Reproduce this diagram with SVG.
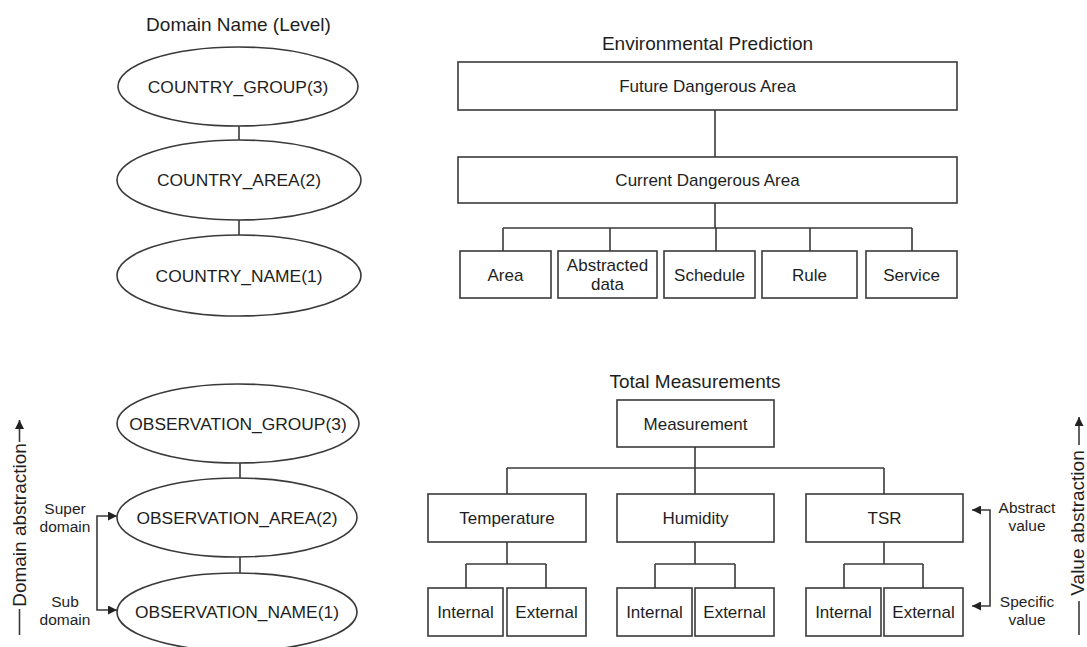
<svg xmlns="http://www.w3.org/2000/svg" width="1087" height="647" viewBox="0 0 1087 647">
  <defs>
    <marker id="arrow" viewBox="0 0 10 10" refX="10" refY="5" markerWidth="11" markerHeight="9" markerUnits="userSpaceOnUse" orient="auto-start-reverse">
      <path d="M0,0 L10,5 L0,10 Z" fill="#222"/>
    </marker>
    <style>
      .shape { fill: #fff; stroke: #3a3a3a; stroke-width: 1.6; }
      .wire { fill: none; stroke: #3a3a3a; stroke-width: 1.6; }
      .lbl { font-family: "Liberation Sans", Arial, sans-serif; font-size: 17px; fill: #1e1e1e; text-anchor: middle; }
      .oval { font-size: 17.4px; }
      .title { font-size: 19px; }
      .side { font-size: 15.5px; }
    </style>
  </defs>

  <rect width="1087" height="647" fill="#fff"/>

  <!-- connectors -->
  <g id="connectors">
    <!-- country hierarchy -->
    <path class="wire" d="M239,126 V140 M239,220 V235"/>
    <!-- observation hierarchy -->
    <path class="wire" d="M240,463 V478 M240,557 V573"/>
    <!-- environmental prediction tree -->
    <path class="wire" d="M715,110 V157 M715,203 V228 M503,228 H912 M503,228 V251 M610,228 V251 M716,228 V251 M810,228 V251 M912,228 V251"/>
    <!-- measurement tree -->
    <path class="wire" d="M695,447 V494 M507,468 H884 M507,468 V494 M884,468 V494"/>
    <path class="wire" d="M507,542 V564 M466,564 H546 M466,564 V588 M546,564 V588"/>
    <path class="wire" d="M695,542 V564 M655,564 H735 M655,564 V588 M735,564 V588"/>
    <path class="wire" d="M884,542 V564 M844,564 H923 M844,564 V588 M923,564 V588"/>
    <!-- super / sub domain bracket -->
    <path class="wire" d="M117,516 H97 V610 H117" marker-start="url(#arrow)" marker-end="url(#arrow)"/>
    <!-- abstract / specific value bracket -->
    <path class="wire" d="M972,510 H990 V606 H972" marker-start="url(#arrow)" marker-end="url(#arrow)"/>
    <!-- abstraction axes -->
    <path class="wire" d="M19.5,635 V609"/>
    <path class="wire" d="M19.5,442 V420" marker-end="url(#arrow)"/>
    <path class="wire" d="M1079,635 V601"/>
    <path class="wire" d="M1079,445 V417" marker-end="url(#arrow)"/>
  </g>

  <!-- titles -->
  <g id="titles">
    <text class="lbl title" x="238.5" y="31">Domain Name (Level)</text>
    <text class="lbl title" x="707.5" y="50">Environmental Prediction</text>
    <text class="lbl title" x="695" y="388">Total Measurements</text>
  </g>

  <!-- country domain levels -->
  <g id="country-group">
    <ellipse class="shape" cx="238" cy="86.5" rx="120" ry="39.5"/>
    <text class="lbl oval" x="238" y="92.5">COUNTRY_GROUP(3)</text>
  </g>
  <g id="country-area">
    <ellipse class="shape" cx="239" cy="180" rx="122" ry="40"/>
    <text class="lbl oval" x="239" y="186">COUNTRY_AREA(2)</text>
  </g>
  <g id="country-name">
    <ellipse class="shape" cx="239" cy="275.5" rx="122" ry="40.5"/>
    <text class="lbl oval" x="239" y="281.5">COUNTRY_NAME(1)</text>
  </g>

  <!-- observation domain levels -->
  <g id="observation-group">
    <ellipse class="shape" cx="238" cy="423.5" rx="121" ry="39.5"/>
    <text class="lbl oval" x="238" y="429.5">OBSERVATION_GROUP(3)</text>
  </g>
  <g id="observation-area">
    <ellipse class="shape" cx="237" cy="517.5" rx="120" ry="39.5"/>
    <text class="lbl oval" x="237" y="523.5">OBSERVATION_AREA(2)</text>
  </g>
  <g id="observation-name">
    <ellipse class="shape" cx="237" cy="612" rx="120" ry="39"/>
    <text class="lbl oval" x="237" y="618">OBSERVATION_NAME(1)</text>
  </g>

  <!-- environmental prediction -->
  <g id="future-dangerous-area">
    <rect class="shape" x="458" y="62" width="499" height="48"/>
    <text class="lbl" x="707.5" y="92">Future Dangerous Area</text>
  </g>
  <g id="current-dangerous-area">
    <rect class="shape" x="458" y="157" width="499" height="46"/>
    <text class="lbl" x="707.5" y="186">Current Dangerous Area</text>
  </g>
  <g id="area">
    <rect class="shape" x="460" y="251" width="91" height="47"/>
    <text class="lbl" x="505.5" y="280.5">Area</text>
  </g>
  <g id="abstracted-data">
    <rect class="shape" x="558" y="251" width="99" height="47"/>
    <text class="lbl" x="607.5" y="271">Abstracted</text>
    <text class="lbl" x="607.5" y="290">data</text>
  </g>
  <g id="schedule">
    <rect class="shape" x="664" y="251" width="91" height="47"/>
    <text class="lbl" x="709.5" y="280.5">Schedule</text>
  </g>
  <g id="rule">
    <rect class="shape" x="762" y="251" width="95" height="47"/>
    <text class="lbl" x="809.5" y="280.5">Rule</text>
  </g>
  <g id="service">
    <rect class="shape" x="866" y="251" width="91" height="47"/>
    <text class="lbl" x="911.5" y="280.5">Service</text>
  </g>

  <!-- total measurements -->
  <g id="measurement">
    <rect class="shape" x="617" y="400" width="157" height="47"/>
    <text class="lbl" x="695.5" y="429.5">Measurement</text>
  </g>
  <g id="temperature">
    <rect class="shape" x="428" y="494" width="158" height="48"/>
    <text class="lbl" x="507" y="524">Temperature</text>
  </g>
  <g id="humidity">
    <rect class="shape" x="617" y="494" width="157" height="48"/>
    <text class="lbl" x="695.5" y="524">Humidity</text>
  </g>
  <g id="tsr">
    <rect class="shape" x="806" y="494" width="157" height="48"/>
    <text class="lbl" x="884.5" y="524">TSR</text>
  </g>
  <g id="temperature-internal">
    <rect class="shape" x="428" y="588" width="75" height="48"/>
    <text class="lbl" x="465.5" y="618">Internal</text>
  </g>
  <g id="temperature-external">
    <rect class="shape" x="507" y="588" width="79" height="48"/>
    <text class="lbl" x="546.5" y="618">External</text>
  </g>
  <g id="humidity-internal">
    <rect class="shape" x="617" y="588" width="75" height="48"/>
    <text class="lbl" x="654.5" y="618">Internal</text>
  </g>
  <g id="humidity-external">
    <rect class="shape" x="695" y="588" width="79" height="48"/>
    <text class="lbl" x="734.5" y="618">External</text>
  </g>
  <g id="tsr-internal">
    <rect class="shape" x="806" y="588" width="75" height="48"/>
    <text class="lbl" x="843.5" y="618">Internal</text>
  </g>
  <g id="tsr-external">
    <rect class="shape" x="884" y="588" width="79" height="48"/>
    <text class="lbl" x="923.5" y="618">External</text>
  </g>

  <!-- bracket labels -->
  <g id="domain-labels">
    <text class="lbl side" x="65" y="514">Super</text>
    <text class="lbl side" x="65" y="532">domain</text>
    <text class="lbl side" x="65" y="607">Sub</text>
    <text class="lbl side" x="65" y="625">domain</text>
  </g>
  <g id="value-labels">
    <text class="lbl side" x="1027" y="513">Abstract</text>
    <text class="lbl side" x="1027" y="531">value</text>
    <text class="lbl side" x="1027" y="607">Specific</text>
    <text class="lbl side" x="1027" y="625">value</text>
  </g>

  <!-- abstraction axes -->
  <g id="domain-axis">
    <text class="lbl title" transform="translate(26,525) rotate(-90)">Domain abstraction</text>
  </g>
  <g id="value-axis">
    <text class="lbl title" transform="translate(1084,523) rotate(-90)">Value abstraction</text>
  </g>
</svg>
